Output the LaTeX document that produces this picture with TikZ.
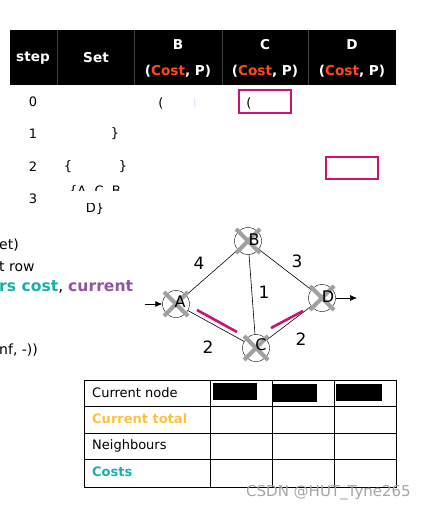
\documentclass[tikz,border=0pt]{standalone}
\usepackage{fontspec}
\setmainfont{DejaVu Sans}
\usetikzlibrary{arrows.meta}
\definecolor{costred}{HTML}{FF4A12}
\definecolor{mag}{HTML}{CC1177}
\definecolor{teal2}{HTML}{1AAFA8}
\definecolor{purp}{HTML}{9055A2}
\definecolor{yel}{HTML}{FFC13B}
\definecolor{xgray}{HTML}{A0A0A0}
\tikzset{
  hdr/.style={text=white,font=\fontsize{13.6}{15}\selectfont\bfseries,align=center,inner sep=0pt},
  cell/.style={font=\fontsize{13}{15}\selectfont,inner sep=0pt},
  lefttxt/.style={font=\fontsize{14}{16}\selectfont,inner sep=0pt,anchor=west},
  gnode/.style={circle,draw=black,fill=white,minimum size=27pt,inner sep=0pt},
  glabel/.style={font=\fontsize{17}{19}\selectfont,inner sep=0pt},
  nlabel/.style={font=\fontsize{16}{18}\selectfont,inner sep=0pt},
  edge/.style={draw=black,line width=0.6pt},
  hl/.style={draw=mag,line width=2.6pt},
  cross/.style={draw=xgray,line width=4pt},
  markbox/.style={draw=mag,line width=2.6pt},
  tcell/.style={font=\fontsize{13}{15}\selectfont,inner sep=0pt,anchor=west},
}
\begin{document}
\begin{tikzpicture}[x=1pt,y=-1pt]
\useasboundingbox (0,0) rectangle (427,510);
% top table header
\fill[black] (10,30) rectangle (396,85);
\foreach \xx in {57,134,222,308} \draw[gray!50!black,line width=0.6pt] (\xx,30) -- (\xx,85);
\node[hdr] (hstep) at (33,58) {step};
\node[hdr] (hset) at (96,58) {Set};
\node[hdr] (hb) at (178,45) {B};
\node[hdr] (hbc) at (178,71) {(\textcolor{costred}{Cost}, P)};
\node[hdr] (hc) at (265,45) {C};
\node[hdr] (hcc) at (265,71) {(\textcolor{costred}{Cost}, P)};
\node[hdr] (hd) at (352,45) {D};
\node[hdr] (hdc) at (352,71) {(\textcolor{costred}{Cost}, P)};
% rows
\node[cell] (r0) at (33,102) {0};
\node[cell] (r1) at (33,134) {1};
\node[cell] (r2) at (33,167) {2};
\node[cell] (r3) at (33,199) {3};
\node[cell] (f0a) at (161,103) {(};
\node[cell,text=blue!25] (f0b) at (195,103) {\fontsize{8}{9}\selectfont|};
\draw[markbox] (239,90) rectangle (291,113);
\node[cell] (f0c) at (249,103) {(};
\node[cell,text=yel!60] (f0d) at (333,103) {\fontsize{6}{6}\selectfont.};
\node[cell] (f1a) at (115,134) {\}};
\node[cell] (f2a) at (68,167) {\{};
\node[cell] (f2b) at (123,167) {\}};
\draw[markbox] (326,157) rectangle (378,179);
\begin{scope}
\clip (60,150) rectangle (140,190.5);
\node[cell] (f3a) at (95,192) {\{A, C, B};
\end{scope}
\begin{scope}
\clip (60,204) rectangle (140,230);
\node[cell] (f3b) at (95,209) {D\}};
\end{scope}
% left text
\node[lefttxt] (l1) at (-1,245) {et)};
\node[lefttxt] (l2) at (-1,267) {t row};
\node[lefttxt,font=\fontsize{15.6}{17}\selectfont] (l3) at (-1,287) {\textbf{\textcolor{teal2}{rs cost}}, \textbf{\textcolor{purp}{current}}};
\node[lefttxt] (l4) at (-1,350) {nf, -))};
% graph
\node[gnode] (A) at (176,304) {};
\node[gnode] (B) at (248,241) {};
\node[gnode] (C) at (256,348) {};
\node[gnode] (D) at (322,298) {};
\draw[edge] (A) -- (B);
\draw[edge] (B) -- (C);
\draw[edge] (B) -- (D);
\draw[edge] (A) -- (C);
\draw[edge] (C) -- (D);
\foreach \n in {A,B,C,D}{
  \draw[cross] ([shift={(-12,-12)}]\n.center) -- ([shift={(12,12)}]\n.center);
  \draw[cross] ([shift={(-12,12)}]\n.center) -- ([shift={(12,-12)}]\n.center);
}
\node[nlabel] (Al) at ([xshift=4pt,yshift=2pt]A.center) {A};
\node[nlabel] (Bl) at ([xshift=6pt,yshift=1pt]B.center) {B};
\node[nlabel] (Cl) at ([xshift=5pt,yshift=3pt]C.center) {C};
\node[nlabel] (Dl) at ([xshift=6pt,yshift=1pt]D.center) {D};
\coordinate (ain) at (145,304);
\coordinate (dout) at (357,298);
\draw[edge,-{Latex[length=7pt,width=6pt]}] (ain) -- (A);
\draw[edge,-{Latex[length=7pt,width=6pt]}] (D) -- (dout);
\coordinate (h1s) at (197,310); \coordinate (h1e) at (237,332);
\coordinate (h2s) at (271,328); \coordinate (h2e) at (303,311);
\draw[hl] (h1s) -- (h1e);
\draw[hl] (h2s) -- (h2e);
\node[glabel] (w4) at (199,263) {4};
\node[glabel] (w3) at (297,261) {3};
\node[glabel] (w1) at (264,292) {1};
\node[glabel] (w2a) at (208,347) {2};
\node[glabel] (w2b) at (301,339) {2};
% bottom table
\draw[line width=1pt] (84,380) rectangle (396,487);
\foreach \yy in {406,433,459} \draw[line width=1pt] (84,\yy) -- (396,\yy);
\foreach \xx in {210,272,334} \draw[line width=1pt] (\xx,380) -- (\xx,487);
\fill[black] (213,383) rectangle (257,400);
\fill[black] (273,384) rectangle (317,402);
\fill[black] (336,384) rectangle (382,401);
\node[tcell] (t1) at (92,393) {Current node};
\node[tcell,text=yel] (t2) at (92,419) {\textbf{Current total}};
\node[tcell] (t3) at (92,446) {Neighbours};
\node[tcell,text=teal2] (t4) at (92,472) {\textbf{Costs}};
% watermark
\node[font=\fontsize{15}{17}\selectfont,text=black!35,inner sep=0pt,anchor=west] (wm) at (246,493) {CSDN @HUT\_Tyne265};
\end{tikzpicture}
\end{document}
